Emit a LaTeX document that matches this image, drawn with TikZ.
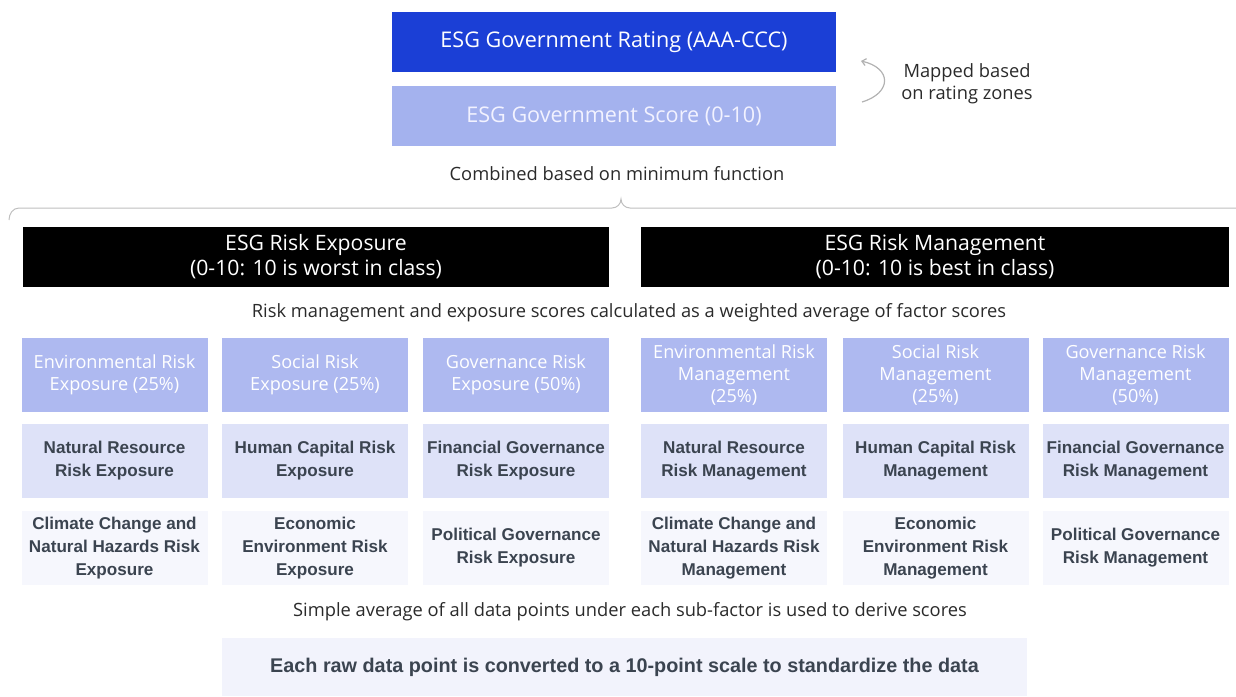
\documentclass[tikz,border=0pt]{standalone}
\usepackage{fontspec}
\setmainfont{Liberation Sans}
\newfontfamily\capfont{Open Sans}
\usetikzlibrary{arrows.meta}
\definecolor{rateblue}{HTML}{1B3FD6}
\definecolor{scoreblue}{HTML}{A4B2EE}
\definecolor{rowone}{HTML}{AEB9F0}
\definecolor{rowtwo}{HTML}{DEE2F8}
\definecolor{rowthree}{HTML}{F6F7FD}
\definecolor{botfill}{HTML}{F2F3FC}
\definecolor{darktext}{HTML}{3B4450}
\definecolor{captext}{HTML}{2A2A2A}
\begin{document}
\begin{tikzpicture}[x=1pt,y=-1pt,
  topbox/.style={inner sep=0pt, minimum width=444pt, minimum height=60pt, align=center,
    font=\capfont\fontsize{21.6}{24}\selectfont},
  headbox/.style={fill=black, text=white, inner sep=0pt, minimum height=60pt, align=center,
    font=\capfont\fontsize{21.2}{25}\selectfont},
  factorbox/.style={fill=rowone, text=white, inner sep=0pt, minimum width=186pt, minimum height=74pt,
    align=center, font=\capfont\fontsize{18.1}{22}\selectfont},
  subbox/.style={inner sep=0pt, minimum width=186pt, minimum height=74pt, align=center,
    text=darktext, font=\bfseries\fontsize{17.1}{23}\selectfont},
  caption/.style={inner sep=0pt, text=captext, align=center, font=\capfont\fontsize{18.3}{22}\selectfont}]
\useasboundingbox (0,0) rectangle (1236,696);

% top
\node[topbox, fill=rateblue, text=white] (rating) at (614,42) {ESG Government Rating (AAA-CCC)};
\node[topbox, fill=scoreblue, text=white!95!blue] (score) at (614,116) {ESG Government Score (0-10)};

\coordinate (arrS) at (862,102);
\coordinate (arrE) at (861,61);
\draw[gray!60, line width=1.2pt, -{Straight Barb[length=4pt,width=7pt]}] (arrS) .. controls (892,93) and (892,68) .. (arrE);
\node[caption] (mapped) at (967,84) {Mapped based\\on rating zones};

\node[caption] (combined) at (617,174) {Combined based on minimum function};

% brace
\coordinate (bL) at (9,220);
\coordinate (bL2) at (19,208);
\coordinate (bM1) at (612,208);
\coordinate (bM) at (621,199);
\coordinate (bM2) at (630,208);
\coordinate (bR) at (1236,208);
\draw[gray!50, line width=1pt] (bL) to[out=90,in=180] (bL2) -- (bM1) to[out=0,in=-90] (bM) to[out=-90,in=180] (bM2) -- (bR);

% headers
\node[headbox, minimum width=586pt] (expo) at (316,257) {ESG Risk Exposure\\(0-10: 10 is worst in class)};
\node[headbox, minimum width=588pt] (mgmt) at (935,257) {ESG Risk Management\\(0-10: 10 is best in class)};

\node[caption] (weighted) at (629,313) {Risk management and exposure scores calculated as a weighted average of factor scores};

% row 1
\node[factorbox] (f1) at (114.5,375) {Environmental Risk\\Exposure (25\%)};
\node[factorbox] (f2) at (315,375) {Social Risk\\Exposure (25\%)};
\node[factorbox] (f3) at (516,375) {Governance Risk\\Exposure (50\%)};
\node[factorbox] (f4) at (734,375) {Environmental Risk\\Management\\(25\%)};
\node[factorbox] (f5) at (935.5,375) {Social Risk\\Management\\(25\%)};
\node[factorbox] (f6) at (1135.5,375) {Governance Risk\\Management\\(50\%)};

% row 2
\node[subbox, fill=rowtwo] (s1) at (114.5,461) {Natural Resource\\Risk Exposure};
\node[subbox, fill=rowtwo] (s2) at (315,461) {Human Capital Risk\\Exposure};
\node[subbox, fill=rowtwo] (s3) at (516,461) {Financial Governance\\Risk Exposure};
\node[subbox, fill=rowtwo] (s4) at (734,461) {Natural Resource\\Risk Management};
\node[subbox, fill=rowtwo] (s5) at (935.5,461) {Human Capital Risk\\Management};
\node[subbox, fill=rowtwo] (s6) at (1135.5,461) {Financial Governance\\Risk Management};

% row 3
\node[subbox, fill=rowthree] (t1) at (114.5,548) {Climate Change and\\Natural Hazards Risk\\Exposure};
\node[subbox, fill=rowthree] (t2) at (315,548) {Economic\\Environment Risk\\Exposure};
\node[subbox, fill=rowthree] (t3) at (516,548) {Political Governance\\Risk Exposure};
\node[subbox, fill=rowthree] (t4) at (734,548) {Climate Change and\\Natural Hazards Risk\\Management};
\node[subbox, fill=rowthree] (t5) at (935.5,548) {Economic\\Environment Risk\\Management};
\node[subbox, fill=rowthree] (t6) at (1135.5,548) {Political Governance\\Risk Management};

\node[caption] (simple) at (630,612) {Simple average of all data points under each sub-factor is used to derive scores};

\node[fill=botfill, inner sep=0pt, minimum width=805pt, minimum height=58pt, text=darktext,
  font=\bfseries\fontsize{19.8}{22}\selectfont] (raw) at (624.5,667)
  {Each raw data point is converted to a 10-point scale to standardize the data};
\end{tikzpicture}
\end{document}
